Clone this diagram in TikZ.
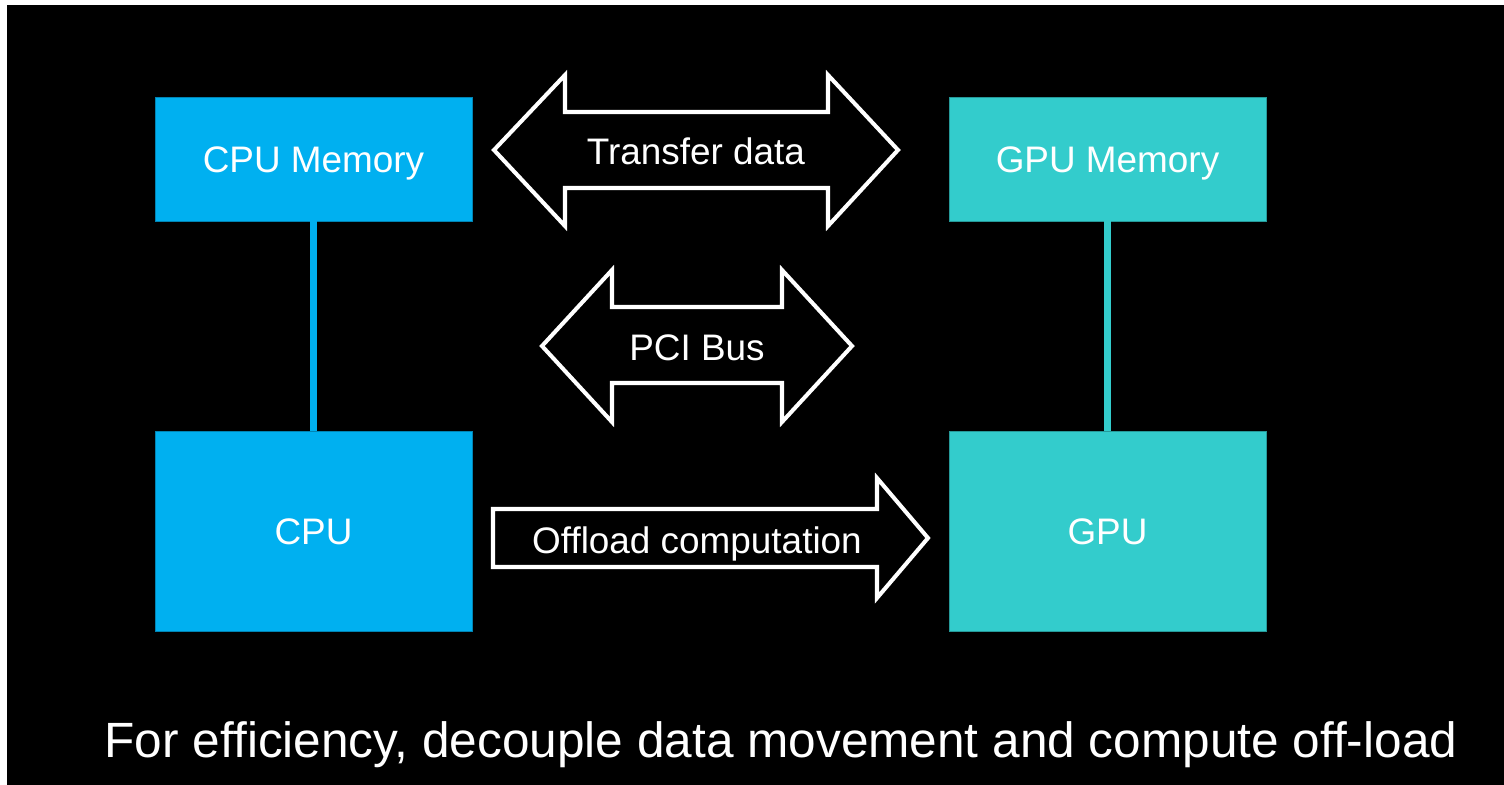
\documentclass[tikz,border=0pt]{standalone}
\usepackage{fontspec}
\setmainfont{Liberation Sans}
\usepackage{tikz}
\usetikzlibrary{calc}
\usepackage{xcolor}
\definecolor{cpublue}{HTML}{00B0F0}
\definecolor{gputeal}{HTML}{33CCCC}
\tikzstyle{unit}=[draw=#1!75!black,line width=0.5pt,fill=#1,text=white,minimum width=63.4mm,inner sep=0pt,text height=15pt,text depth=0pt,font=\fontsize{21}{25}\selectfont]
\tikzstyle{link}=[draw=#1,line width=4pt]
\tikzstyle{blockarrow}=[draw=white,line width=2.3pt,line join=miter]
\tikzstyle{arrowtext}=[text=white,inner sep=0pt,text height=15pt,text depth=0pt,font=\fontsize{21}{25}\selectfont]

\begin{document}
\begin{tikzpicture}[x=0.2mm,y=-0.2mm]
 % background
 \useasboundingbox (0,0) rectangle (1504,784);
 \fill[white] (0,0) rectangle (1504,784);
 \fill[black] (7,5) rectangle (1515,795);
 %
 \node[unit=cpublue,minimum height=24.8mm] (cpumem) at (313.5,159) {CPU Memory};
 \node[unit=cpublue,minimum height=40mm] (cpu) at (313.5,531) {CPU};
 \node[unit=gputeal,minimum height=24.8mm] (gpumem) at (1107.5,159) {GPU Memory};
 \node[unit=gputeal,minimum height=40mm] (gpu) at (1107.5,531) {GPU};
 \draw[link=cpublue] (cpumem) -- (cpu);
 \draw[link=gputeal] (gpumem) -- (gpu);
 %
 \draw[blockarrow] (494,150) -- (565,75) -- (565,112) -- (828,112) -- (828,75) -- (898,150)
  -- (828,226) -- (828,188) -- (565,188) -- (565,226) -- cycle;
 \node[arrowtext] (transfer) at (696,151.5) {Transfer data};
 %
 \draw[blockarrow] (542,346) -- (612,270) -- (612,307) -- (782,307) -- (782,270) -- (852,346)
  -- (782,422) -- (782,383) -- (612,383) -- (612,422) -- cycle;
 \node[arrowtext] (pcibus) at (697,347) {PCI Bus};
 %
 \draw[blockarrow] (493,509) -- (877,509) -- (877,478) -- (928,538) -- (877,598) -- (877,567)
  -- (493,567) -- cycle;
 \node[arrowtext] (offload) at (697,540) {Offload computation};
 %
 \node[text=white,inner sep=0pt,text height=20.2pt,text depth=0pt,font=\fontsize{28.2}{33}\selectfont] (caption) at (781,740)
  {For efficiency, decouple data movement and compute off-load};
\end{tikzpicture}
\end{document}
